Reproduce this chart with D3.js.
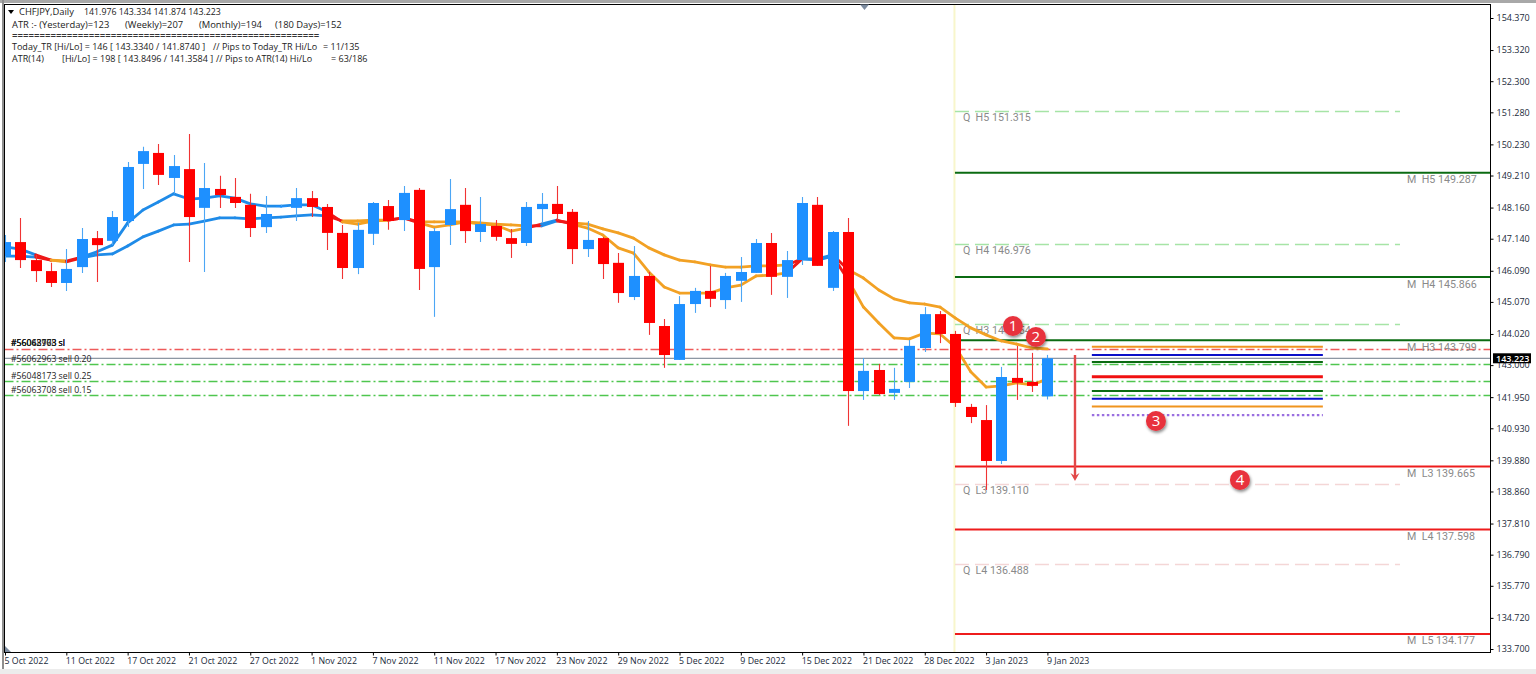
<!DOCTYPE html>
<html><head><meta charset="utf-8">
<script src="https://cdn.jsdelivr.net/npm/d3@7/dist/d3.min.js"></script>
<style>
html,body{margin:0;padding:0;background:#fff;overflow:hidden}
svg{display:block}
text{font-family:"Open Sans",sans-serif;white-space:pre}
</style></head><body><svg id="c" width="1536" height="674"></svg>
<script>
const opens=[146.57,147.03,146.44,146.08,145.69,146.21,147.16,147.07,147.72,149.59,149.95,149.13,149.42,148.15,148.77,148.51,148.25,147.52,148.18,148.15,148.47,148.18,147.33,146.18,147.30,148.21,147.75,148.74,146.21,147.59,148.25,147.36,147.56,147.16,147.00,148.11,148.28,148.02,146.80,147.16,146.35,145.23,145.92,144.28,143.17,145.00,145.43,145.13,145.76,146.02,147.00,145.89,146.44,148.25,145.53,147.36,142.15,142.84,142.09,142.45,143.56,144.67,144.02,141.63,141.20,139.86,142.58,142.45,141.976];
const highs=[147.26,147.82,146.61,146.35,146.80,147.49,147.39,148.05,149.65,150.15,150.24,149.88,150.57,149.62,149.20,149.13,148.61,148.54,148.25,148.80,148.70,148.28,147.59,147.66,148.34,148.41,148.87,148.80,147.49,149.10,148.80,148.51,147.75,147.46,148.34,148.64,148.87,148.11,147.72,147.20,146.67,146.90,146.05,144.51,145.26,145.53,146.25,146.02,146.54,147.13,147.33,146.74,148.51,148.51,147.39,147.82,143.23,143.04,142.91,143.82,144.90,144.77,144.12,141.73,141.69,142.94,143.63,143.40,143.334];
const lows=[146.38,146.18,145.72,145.56,145.43,146.02,145.72,146.93,147.52,148.77,148.90,148.61,146.38,146.05,148.15,148.15,147.20,147.33,148.15,147.72,147.85,146.77,145.82,145.98,146.93,147.43,147.39,145.46,144.58,146.93,147.00,147.03,147.07,146.51,146.90,147.66,147.75,146.31,146.54,145.82,145.04,145.13,143.99,142.91,143.17,144.71,144.90,144.84,145.07,146.02,145.30,145.20,146.28,146.25,145.43,141.01,141.86,142.02,141.86,142.25,143.43,143.72,141.63,141.10,138.91,139.76,141.86,142.12,141.874];
const closes=[147.03,146.44,146.08,145.69,146.15,147.13,146.93,147.85,149.49,150.01,149.23,149.52,147.85,148.80,148.57,148.31,147.49,147.95,148.21,148.47,148.18,147.33,146.18,147.43,148.31,147.72,148.64,146.15,147.39,148.11,147.39,147.62,147.20,146.97,148.18,148.28,147.95,146.80,147.10,146.31,145.36,145.92,144.38,143.33,145.00,145.43,145.17,145.92,146.05,147.00,145.89,146.44,148.31,146.25,147.36,142.15,142.81,142.05,142.22,143.63,144.67,144.02,141.76,141.30,139.86,142.61,142.42,142.32,143.223];
const maFast=[146.87,146.80,146.61,146.44,146.41,146.54,146.71,146.93,147.66,148.08,148.34,148.61,148.44,148.47,148.54,148.47,148.28,148.21,148.21,148.25,148.25,148.02,147.69,147.62,147.72,147.75,147.82,147.66,147.52,147.59,147.69,147.62,147.59,147.39,147.49,147.62,147.75,147.62,147.49,147.26,146.84,146.67,146.05,145.56,145.36,145.36,145.36,145.53,145.62,145.92,145.95,146.02,146.48,146.44,146.57,145.79,144.90,144.38,143.89,143.86,144.05,144.02,143.59,142.78,142.28,142.32,142.42,142.35,142.55];
const maSlow=[146.57,146.57,146.54,146.44,146.38,146.51,146.61,146.64,146.90,147.20,147.39,147.59,147.62,147.72,147.82,147.82,147.79,147.82,147.85,147.89,147.92,147.89,147.72,147.72,147.75,147.75,147.82,147.69,147.69,147.69,147.69,147.66,147.62,147.59,147.56,147.56,147.72,147.66,147.62,147.46,147.33,147.16,146.84,146.61,146.44,146.38,146.28,146.21,146.21,146.25,146.25,146.28,146.48,146.48,146.61,146.12,145.85,145.46,145.17,145.04,145.00,144.90,144.54,144.22,143.99,143.79,143.69,143.56,143.53];
const maStates="BBRORBBBBBBBBBBBBBBBBROOORROOOOOOORBROOOOOOOOOOOOOORBBROOOOOOOOOOOOO".split("");
const priceTicks=[154.37,153.32,152.30,151.28,150.23,149.21,148.16,147.14,146.09,145.07,144.02,143.00,141.95,140.93,139.88,138.86,137.81,136.79,135.77,134.72,133.70];
const dateIdx=[0,4,8,12,16,20,24,28,32,36,40,44,48,52,56,60,64,68];
const dateLabels=["5 Oct 2022","11 Oct 2022","17 Oct 2022","21 Oct 2022","27 Oct 2022","1 Nov 2022","7 Nov 2022","11 Nov 2022","17 Nov 2022","23 Nov 2022","29 Nov 2022","5 Dec 2022","9 Dec 2022","15 Dec 2022","21 Dec 2022","28 Dec 2022","3 Jan 2023","9 Jan 2023"];
const monthlyLevels=[["M  H5 149.287",149.287,"#0b6b12"],["M  H4 145.866",145.866,"#0b6b12"],["M  H3 143.799",143.799,"#0b6b12"],["M  L3 139.665",139.665,"#ee1c1c"],["M  L4 137.598",137.598,"#ee1c1c"],["M  L5 134.177",134.177,"#ee1c1c"]];
const quarterLevels=[["Q  H5 151.315",151.315,"#a6e4a6"],["Q  H4 146.976",146.976,"#a6e4a6"],["Q  H3 144.354",144.354,"#a6e4a6"],["Q  L3 139.110",139.110,"#f4d6d6"],["Q  L4 136.488",136.488,"#f4d6d6"]];
const orderLevels=[143.53,143.04,142.48,142.02];
const orderColors=["#ee5a5a","#4fc64f","#4fc64f","#4fc64f"];
const orderLabels=[["#56062963 sl",143.53],["#56048173 sl",143.53],["#56063708 sl",143.53],["#56062963 sell 0.20",143.04],["#56048173 sell 0.25",142.48],["#56063708 sell 0.15",142.02]];
const bidPrice=143.223;
const rangeLevels=[[143.60,"#f0941e",2,null],[143.333,"#0a10c8",2,null],[143.10,"#0b6b12",2,null],[142.62,"#f01010",3,null],[142.15,"#0b6b12",2,null],[141.90,"#0a10c8",2,null],[141.64,"#f0941e",2,null],[141.3584,"#9a6fe0",2.2,"2.5,2.5"]];
const markerNums=["1","2","3","4"];
const markerIdx=[65.75,67.25,75.08,80.56];
const markerPrice=[144.28,143.92,141.17,139.24];
const arrowIdx=69.8, arrowFrom=143.33, arrowTo=139.2;
const headerTexts=["CHFJPY,Daily","141.976 143.334 141.874 143.223","ATR :- (Yesterday)=123","(Weekly)=207","(Monthly)=194","(180 Days)=152","Today_TR [Hi/Lo] = 146 [ 143.3340 / 141.8740 ]","// Pips to Today_TR Hi/Lo","= 11/135","ATR(14)","[Hi/Lo] = 198 [ 143.8496 / 141.3584 ]","// Pips to ATR(14) Hi/Lo","= 63/186"];
const headerX=[19,84,12,125,199,275,12,213,323,12,62,216,331];
const headerY=[15,15,28,28,28,28,50,50,50,62,62,62,62];
const headerSize=[9.4,8.8,9.4,9.4,9.4,9.4,9,9,9,9,9,9,9];

const svg=d3.select("#c");
const W=1536,H=674,L=4.5,T=4.5,R=1490.5,B=652.5;
const x=d3.scaleLinear().domain([0,68]).range([5,1047.4]);
const y=d3.scaleLinear().domain([154.37,133.70]).range([18,649]);
const defs=svg.append("defs");
defs.append("clipPath").attr("id","plot").append("rect").attr("x",L).attr("y",T).attr("width",R-L).attr("height",B-T);
const f=defs.append("filter").attr("id","sh").attr("x","-50%").attr("y","-50%").attr("width","200%").attr("height","200%");
f.append("feDropShadow").attr("dx",1).attr("dy",2).attr("stdDeviation",1.6).attr("flood-color","#000").attr("flood-opacity",.45);

svg.append("rect").attr("width",W).attr("height",H).attr("fill","#fff");
svg.append("rect").attr("y",0).attr("width",W).attr("height",3).attr("fill","#a8a8a8");
svg.append("rect").attr("x",2).attr("y",0).attr("width",2).attr("height",H-5).attr("fill","#8e8e8e");
svg.append("rect").attr("y",H-5).attr("width",W).attr("height",5).attr("fill","#ececec");

const plot=svg.append("g").attr("clip-path","url(#plot)");
// period separator
plot.append("rect").attr("x",x(61.97)-1.5).attr("y",T).attr("width",2).attr("height",B-T).attr("fill","#f8f6cc");

// quarter pivots
plot.selectAll(".q").data(quarterLevels).join("line").attr("x1",x(61.97)).attr("x2",x(91))
  .attr("y1",d=>Math.round(y(d[1]))+.5).attr("y2",d=>Math.round(y(d[1]))+.5).attr("stroke",d=>d[2]).attr("stroke-width",1.5).attr("stroke-dasharray","14,6");
plot.selectAll(".ql").data(quarterLevels).join("text").attr("x",x(61.97)+8).attr("y",d=>y(d[1])+10)
  .attr("font-size",10.7).attr("fill","#8a8a8a").attr("style",'font-family:Roboto').text(d=>d[0]);
// monthly pivots
plot.selectAll(".m").data(monthlyLevels).join("line").attr("x1",x(61.97)).attr("x2",R)
  .attr("y1",d=>y(d[1])-.5).attr("y2",d=>y(d[1])-.5).attr("stroke",d=>d[2]).attr("stroke-width",2);
// orders
plot.selectAll(".o").data(orderLevels).join("line").attr("x1",L).attr("x2",R)
  .attr("y1",d=>Math.round(y(d))+.5).attr("y2",d=>Math.round(y(d))+.5).attr("stroke",(d,i)=>orderColors[i]).attr("stroke-width",1.3).attr("stroke-dasharray","9,3,2,3");
plot.append("line").attr("x1",L).attr("x2",R).attr("y1",y(bidPrice)).attr("y2",y(bidPrice)).attr("stroke","#6e7b8a").attr("stroke-width",1);
plot.selectAll(".ml").data(monthlyLevels).join("text").attr("x",1407).attr("y",d=>y(d[1])+10)
  .attr("font-size",10.7).attr("fill","#8a8a8a").attr("style",'font-family:Roboto').text(d=>d[0]);
svg.selectAll(".ol").data(orderLabels).join("text").attr("x",11).attr("y",(d,i)=>[346,346,346,362,379,393][i])
  .attr("font-size",8.7).attr("fill","#1a1a1a").text(d=>d[0]);
// range bars
plot.selectAll(".r").data(rangeLevels).join("line").attr("x1",x(70.9)).attr("x2",x(85.97))
  .attr("y1",d=>y(d[0])).attr("y2",d=>y(d[0])).attr("stroke",d=>d[1]).attr("stroke-width",d=>d[2]).attr("stroke-dasharray",d=>d[3]);

// moving averages
const maColor={B:"#1f8be8",R:"#ee1818",O:"#f2a124"};
[maSlow,maFast].forEach(s=>{
  plot.selectAll(null).data(d3.range(s.length-1)).join("line")
   .attr("x1",i=>x(i)).attr("x2",i=>x(i+1)).attr("y1",i=>y(s[i])).attr("y2",i=>y(s[i+1]))
   .attr("stroke",i=>maColor[maStates[i]]).attr("stroke-width",2.8).attr("stroke-linecap","round");
});
// candles
const ci=d3.range(opens.length), up=i=>closes[i]>=opens[i], col=i=>up(i)?"#1e90ff":"#ff0000";
plot.selectAll(".w").data(ci).join("line").attr("x1",i=>Math.round(x(i))+.5).attr("x2",i=>Math.round(x(i))+.5)
  .attr("y1",i=>y(highs[i])).attr("y2",i=>y(lows[i])).attr("stroke",i=>up(i)?"#4ca6f5":"#f03434").attr("stroke-width",1.1);
plot.selectAll(".b").data(ci).join("rect").attr("x",i=>Math.round(x(i))-5).attr("width",11)
  .attr("y",i=>y(Math.max(opens[i],closes[i]))).attr("height",i=>Math.max(1,Math.abs(y(opens[i])-y(closes[i])))).attr("fill",col);

// arrow
plot.append("line").attr("x1",x(arrowIdx)).attr("x2",x(arrowIdx)).attr("y1",y(arrowFrom)).attr("y2",y(arrowTo)-4).attr("stroke","#e24848").attr("stroke-width",2.4);
const ax=x(arrowIdx),ay=y(arrowTo);
plot.append("path").attr("d",`M${ax-4.5},${ay-8}L${ax},${ay}L${ax+4.5},${ay-8}L${ax},${ay-5}Z`).attr("fill","#e24848");
// markers
const mk=svg.selectAll(".k").data(markerNums).join("g").attr("transform",(d,i)=>`translate(${x(markerIdx[i])},${y(markerPrice[i])})`);
mk.append("circle").attr("r",10).attr("fill","#e8333c").attr("filter","url(#sh)");
mk.append("text").attr("text-anchor","middle").attr("y",5.3).attr("font-size",15).attr("fill","#fff").text(d=>d);

// axes
const axR=d3.axisRight(y).tickValues(priceTicks).tickFormat(d3.format(".3f")).tickSize(3).tickPadding(3);
const gR=svg.append("g").attr("transform",`translate(${R},0)`).call(axR);
gR.select(".domain").remove();
gR.selectAll("text").attr("font-size",9).attr("fill","#1a2a3a").style("font-family",'"Open Sans"');
gR.selectAll("line").attr("stroke","#000");
const axB=d3.axisBottom(x).tickValues(dateIdx).tickFormat((d,i)=>dateLabels[i]).tickSize(3).tickPadding(2);
const gB=svg.append("g").attr("transform",`translate(0,${B})`).call(axB);
gB.select(".domain").remove();
gB.selectAll("text").attr("font-size",8.8).attr("text-anchor","start").attr("fill","#1a2a3a").attr("dx",-1).style("font-family",'"Open Sans"');
gB.selectAll("line").attr("stroke","#000");
svg.append("rect").attr("x",L).attr("y",T).attr("width",R-L).attr("height",B-T).attr("fill","none").attr("stroke","#000").attr("stroke-width",1);

// price tag
svg.append("rect").attr("x",1493).attr("y",y(bidPrice)-5).attr("width",38).attr("height",10).attr("fill","#000");
svg.append("text").attr("x",1496).attr("y",y(bidPrice)+3.5).attr("font-size",9).attr("font-weight",600).attr("fill","#fff").text(d3.format(".3f")(bidPrice));

// header
svg.append("path").attr("d","M8,10L14,10L11,14Z").attr("fill","#000");
svg.selectAll(".h").data(headerTexts).join("text").attr("x",(d,i)=>headerX[i]).attr("y",(d,i)=>headerY[i]).attr("font-size",(d,i)=>headerSize[i]).attr("fill","#222").text(d=>d);
svg.append("text").attr("x",12).attr("y",39).attr("font-size",9.6).attr("fill","#333").attr("font-weight",600).text("=".repeat(56));
// scroll marks
svg.append("path").attr("d","M860,4.5L869,4.5L864.5,10Z").attr("fill","#7d8ca0");
svg.append("path").attr("d","M5,646L5,652L11,652Z").attr("fill","#7d8ca0");
</script></body></html>
